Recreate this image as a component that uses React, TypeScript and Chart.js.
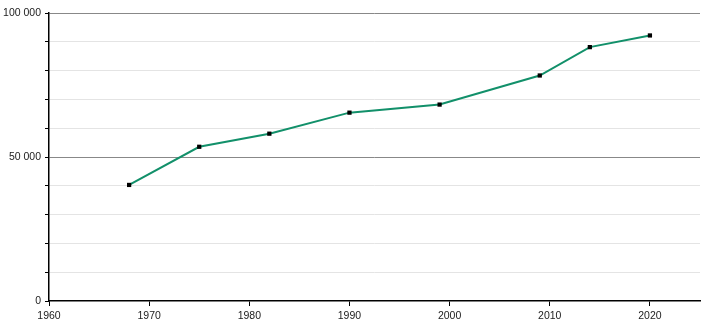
import React, { useEffect, useRef } from "react";
import { Chart, registerables } from "chart.js";

Chart.register(...registerables);

const years = [1968, 1975, 1982, 1990, 1999, 2009, 2014, 2020];
const population = [40300, 53550, 58100, 65400, 68200, 78300, 88150, 92200];
const yLabelValues = [0, 50000, 100000];
const xTickYears = [1960, 1970, 1980, 1990, 2000, 2010, 2020];

const fmt = (v: number) => String(v).replace(/\B(?=(\d{3})+(?!\d))/g, " ");

export default function App() {
  const ref = useRef<HTMLCanvasElement | null>(null);
  useEffect(() => {
    if (!ref.current) return;
    const chart = new Chart(ref.current, {
      type: "line",
      data: {
        datasets: [
          {
            data: years.map((y, i) => ({ x: y, y: population[i] })),
            borderColor: "#12906a",
            borderWidth: 2,
            pointStyle: "rect",
            pointRadius: 3,
            pointBackgroundColor: "#000",
            pointBorderColor: "#000",
            pointBorderWidth: 0,
            tension: 0,
          },
        ],
      },
      options: {
        animation: false,
        responsive: false,
        maintainAspectRatio: false,
        layout: { padding: { top: 13, right: 10, left: 0, bottom: 0 } },
        plugins: { legend: { display: false }, tooltip: { enabled: false } },
        scales: {
          x: {
            type: "linear",
            min: 1960,
            max: 2025,
            afterBuildTicks: (s: any) => {
              s.ticks = xTickYears.map((v) => ({ value: v }));
            },
            afterFit: (s: any) => {
              s.height = 19;
            },
            ticks: {
              color: "#222",
              font: { family: "Liberation Sans, Arial, sans-serif", size: 10.5 },
              padding: 4,
              maxRotation: 0,
              callback: (v: any) => String(v),
            },
            grid: {
              drawOnChartArea: false,
              drawTicks: true,
              tickLength: 5,
              tickColor: "#000",
            },
            border: { color: "#000", width: 1.5 },
          },
          y: {
            min: 0,
            max: 100000,
            ticks: {
              stepSize: 10000,
              autoSkip: false,
              color: "#222",
              font: { family: "Liberation Sans, Arial, sans-serif", size: 10.5 },
              padding: 4,
              callback: (v: any) => (yLabelValues.includes(Number(v)) ? fmt(Number(v)) : ""),
            },
            afterFit: (s: any) => {
              s.width = 49;
            },
            grid: {
              color: (ctx: any) =>
                ctx.tick && ctx.tick.value % 50000 === 0
                  ? ctx.tick.value === 0
                    ? "rgba(0,0,0,0)"
                    : "#888"
                  : "#e4e4e4",
              lineWidth: 1,
              tickLength: 4,
              tickColor: "#000",
            },
            border: { color: "#000", width: 1.5 },
          },
        },
      },
    });
    return () => chart.destroy();
  }, []);
  return (
    <div style={{ position: "absolute", left: 0, top: 0, width: 710, height: 320, background: "#fff" }}>
      <canvas ref={ref} width={710} height={320} style={{ width: 710, height: 320 }} />
    </div>
  );
}
